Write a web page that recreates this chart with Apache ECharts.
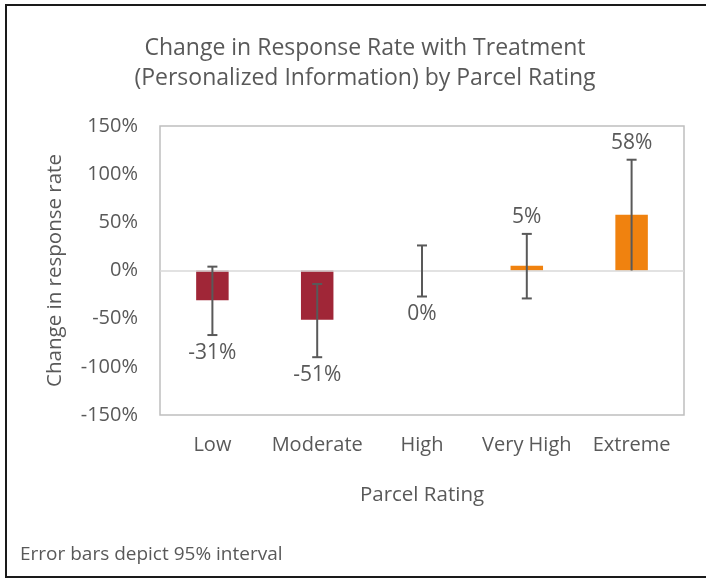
<!DOCTYPE html>
<html>
<head>
<meta charset="utf-8">
<script src="https://cdn.jsdelivr.net/npm/echarts@6/dist/echarts.min.js"></script>
<style>
  html, body { margin: 0; padding: 0; background: #fff; }
  #chart { width: 706px; height: 580px; }
</style>
</head>
<body>
<div id="chart"></div>
<script>
const categories = ['Low', 'Moderate', 'High', 'Very High', 'Extreme']
const values = [-31, -51, 0, 5, 58]
// 95% interval ends
const lower = [-67, -90, -27, -29, 0]
const upper = [4, -14, 26, 38, 115]

const FONT = '"Open Sans", "Noto Sans", sans-serif'
const GREY = '#595959'

const chart = echarts.init(document.getElementById('chart'))

const option = {
  backgroundColor: '#fff',
  textStyle: { fontFamily: FONT },
  title: {
    text: 'Change in Response Rate with Treatment\n(Personalized Information) by Parcel Rating',
    left: 360,
    top: 28,
    textAlign: 'center',
    textStyle: { fontFamily: FONT, fontSize: 23, fontWeight: 'normal', color: GREY, lineHeight: 30 }
  },
  graphic: [
    {
      type: 'rect',
      shape: { x: 6, y: 5, width: 720, height: 572 },
      style: { fill: 'none', stroke: '#1a1a1a', lineWidth: 2 },
      silent: true
    },
    {
      type: 'text',
      left: 20,
      top: 545,
      style: { text: 'Error bars depict 95% interval', fontFamily: FONT, fontSize: 19, fill: GREY }
    }
  ],
  grid: {
    left: 160,
    right: 22,
    top: 126,
    bottom: 165,
    show: true,
    borderColor: '#bfbfbf',
    borderWidth: 1.5
  },
  xAxis: {
    type: 'category',
    data: categories,
    axisLine: { show: false },
    axisTick: { show: false },
    axisLabel: { color: GREY, fontSize: 20, margin: 20, interval: 0, hideOverlap: false, fontFamily: FONT },
    name: 'Parcel Rating',
    nameLocation: 'middle',
    nameGap: 70,
    nameTextStyle: { color: GREY, fontSize: 20.5, fontFamily: FONT }
  },
  yAxis: {
    type: 'value',
    min: -150,
    max: 150,
    interval: 50,
    axisLine: { show: false },
    axisTick: { show: false },
    splitLine: { show: false },
    axisLabel: { formatter: '{value}%', color: GREY, fontSize: 20, margin: 22, fontFamily: FONT },
    name: 'Change in response rate',
    nameLocation: 'middle',
    nameGap: 94,
    nameRotate: 90,
    nameTextStyle: { color: GREY, fontSize: 20.5, fontFamily: FONT }
  },
  series: [
    {
      type: 'bar',
      barWidth: '31%',
      data: values.map(v => ({
        value: v,
        itemStyle: { color: v < 0 ? '#A02637' : '#F0820F' }
      })),
      markLine: {
        silent: true,
        symbol: 'none',
        label: { show: false },
        lineStyle: { color: '#d9d9d9', type: 'solid', width: 1.5 },
        data: [{ yAxis: 0 }]
      },
      z: 2
    },
    {
      type: 'custom',
      z: 5,
      data: categories.map((c, i) => [i, lower[i], upper[i], values[i]]),
      renderItem: function (params, api) {
        const x = api.coord([api.value(0), 0])[0]
        const yLo = api.coord([api.value(0), api.value(1)])[1]
        const yHi = api.coord([api.value(0), api.value(2)])[1]
        const v = api.value(3)
        const cap = 5
        const stroke = { stroke: GREY, lineWidth: 2 }
        const labelY = v > 0 ? yHi - 17 : yLo + 18
        const children = [
          { type: 'line', shape: { x1: x, y1: yHi, x2: x, y2: yLo }, style: stroke },
          { type: 'line', shape: { x1: x - cap, y1: yHi, x2: x + cap, y2: yHi }, style: stroke }
        ]
        // the Extreme interval stops at the bar base without a cap
        if (api.value(1) !== 0) {
          children.push({ type: 'line', shape: { x1: x - cap, y1: yLo, x2: x + cap, y2: yLo }, style: stroke })
        }
        children.push({
          type: 'text',
          x: x,
          y: labelY,
          style: {
            text: v + '%',
            fontFamily: FONT,
            fontSize: 21,
            fill: GREY,
            align: 'center',
            verticalAlign: 'middle'
          }
        })
        return { type: 'group', children: children }
      }
    }
  ]
}

chart.setOption(option)
window.addEventListener('resize', () => chart.resize())
</script>
</body>
</html>
